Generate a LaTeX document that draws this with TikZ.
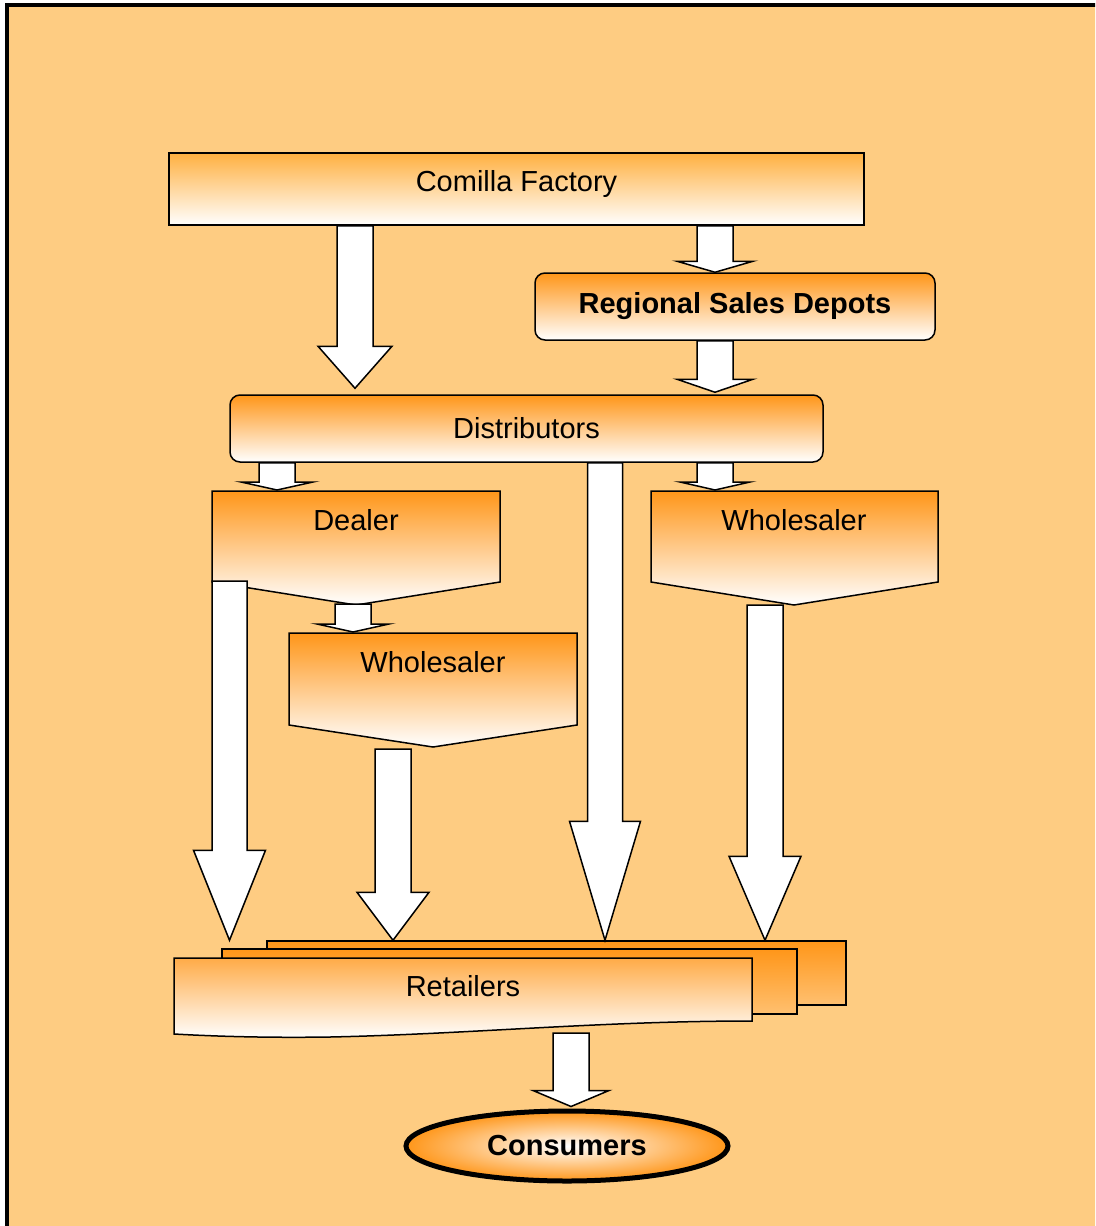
\documentclass[tikz,border=0pt]{standalone}
\usepackage{fontspec}
\setmainfont{Liberation Sans}
\usetikzlibrary{calc,shapes.geometric}
\definecolor{paper}{HTML}{FECC82}
\definecolor{deeporange}{HTML}{FF9619}
\definecolor{softorange}{HTML}{FFB040}
\definecolor{paleorange}{HTML}{FFC070}

% block arrow: from, to, x, shaft half width, head half width, head length
\newcommand{\blockarrow}[6]{%
  \draw[flowarrow] let \p1=(#1), \p2=(#2) in
    ({#3pt-#4pt},\y1) -- ({#3pt-#4pt},{\y2+#6pt}) -- ({#3pt-#5pt},{\y2+#6pt})
    -- (#3pt,\y2) -- ({#3pt+#5pt},{\y2+#6pt}) -- ({#3pt+#4pt},{\y2+#6pt})
    -- ({#3pt+#4pt},\y1) -- cycle;}

\begin{document}
\begin{tikzpicture}[
  x=1pt,
  y=-1pt,
  box/.style={
    draw=black,line width=1.5pt,top color=deeporange,bottom color=white,
    inner sep=0pt,font=\fontsize{29}{34}\selectfont
  },
  flatbox/.style={box,rectangle,top color=softorange},
  roundbox/.style={box,rounded corners=10pt},
  padbox/.style={draw=black,line width=1.5pt,top color=deeporange,bottom color=white},
  sheet/.style={
    draw=black,line width=1.5pt,rectangle,top color=deeporange,
    bottom color=paleorange,inner sep=0pt
  },
  caption/.style={font=\fontsize{29}{34}\selectfont,inner sep=0pt},
  flowarrow/.style={draw=black,fill=white,line width=1.5pt,line join=miter}
]
  \useasboundingbox (0,0) rectangle (1095,1226);
  \clip (0,0) rectangle (1095,1226);
  \draw[line width=4pt,fill=paper] (6.5,5) rectangle (1120,1250);

  % Factory and depots
  \node[flatbox,minimum width=695,minimum height=72] (factory) at (516.5,189) {};
  \node[caption] (factory-text) at (516.5,184) {Comilla Factory};
  \node[roundbox,minimum width=400,minimum height=67] (depots) at (735,306.5)
    {\bfseries Regional Sales Depots};
  \node[roundbox,minimum width=593,minimum height=67] (distributors) at (526.5,428.5)
    {Distributors};

  % Dealer and wholesalers
  \shade[padbox] (212,491) -- (500,491) -- (500,582) -- (356,605) -- (212,582) -- cycle;
  \coordinate (dealer-top) at (356,491);
  \coordinate (dealer-side) at (212,581);
  \coordinate (dealer-foot) at (356,604);
  \node[caption] (dealer) at (356,520) {Dealer};

  \shade[padbox] (289,633) -- (577,633) -- (577,725) -- (433,747) -- (289,725) -- cycle;
  \coordinate (midsale-top) at (433,632);
  \coordinate (midsale-foot) at (433,749);
  \node[caption] (midsale) at (433,662) {Wholesaler};

  \shade[padbox] (651,491) -- (938,491) -- (938,582) -- (794,605) -- (651,582) -- cycle;
  \coordinate (rightsale-top) at (794,491);
  \coordinate (rightsale-foot) at (794,605);
  \node[caption] (rightsale) at (794,520) {Wholesaler};

  % Retailers
  \node[sheet,minimum width=579,minimum height=64] (retail-back) at (556.5,973) {};
  \node[sheet,minimum width=575,minimum height=65] (retail-mid) at (509.5,981.5) {};
  \shade[padbox,top color=deeporange!80!white]
    (174,958) -- (752,958) -- (752,1021)
    .. controls (600,1021) and (470,1034) .. (330,1037)
    .. controls (260,1038) and (210,1036) .. (174,1034) -- cycle;
  \coordinate (retail-foot) at (571,1033);
  \node[caption] (retailers) at (463,986) {Retailers};

  % Consumers
  \node[ellipse,draw=black,line width=5pt,inner color=white,outer color=deeporange,
    minimum width=322,minimum height=70,font=\fontsize{29}{34}\selectfont\bfseries]
    (consumers) at (567,1146) {\raisebox{-3pt}{Consumers}};

  % Flows
  \blockarrow{factory.south}{$(distributors.north)+(0,-6)$}{355}{18}{37}{42}
  \blockarrow{factory.south}{depots.north}{715}{18}{38}{11}
  \blockarrow{depots.south}{$(distributors.north)+(0,-2)$}{715}{18}{38}{13}
  \blockarrow{distributors.south}{$(dealer-top)+(0,-1)$}{277}{18}{36}{8}
  \blockarrow{distributors.south}{retail-back.north}{605}{17.5}{35.5}{119}
  \blockarrow{distributors.south}{$(rightsale-top)+(0,-1)$}{715}{18}{35}{8}
  \blockarrow{dealer-side}{retail-back.north}{229.5}{17.5}{36}{90}
  \blockarrow{dealer-foot}{midsale-top}{353}{18}{36}{8}
  \blockarrow{midsale-foot}{retail-back.north}{393}{18}{36}{48}
  \blockarrow{rightsale-foot}{retail-back.north}{765}{18}{36}{84}
  \blockarrow{retail-foot}{$(consumers.north)+(0,-2)$}{571}{18}{38}{16}
\end{tikzpicture}
\end{document}
